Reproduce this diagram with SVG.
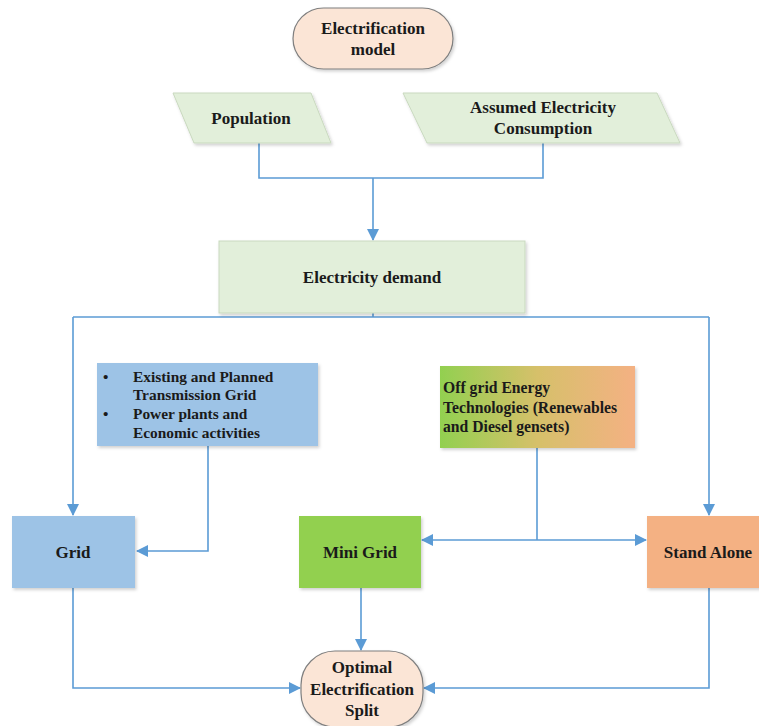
<svg xmlns="http://www.w3.org/2000/svg" width="759" height="726" viewBox="0 0 759 726">
<style>
text{font-family:'Liberation Serif','Times New Roman','DejaVu Serif',serif;font-weight:700;fill:#1a1a1a}
.c{text-anchor:middle}
.lg{fill:#e2efda;stroke:#c9d9bf;stroke-width:1}
.pe{fill:#fbe5d6;stroke:#7f7f7f;stroke-width:1.2}
.conn{fill:none;stroke:#5b9bd5;stroke-width:1.6}
</style>
<defs>
<marker id="ar" markerWidth="12" markerHeight="12" refX="11" refY="6" orient="auto" markerUnits="userSpaceOnUse">
<path d="M0,0 L12,6 L0,12 Z" fill="#5b9bd5"/>
</marker>
<linearGradient id="og" x1="0" y1="0" x2="1" y2="0">
<stop offset="0" stop-color="#92d050"/>
<stop offset="0.5" stop-color="#d6c06a"/>
<stop offset="1" stop-color="#f4b183"/>
</linearGradient>
<filter id="sh" x="-10%" y="-10%" width="125%" height="130%">
<feDropShadow dx="1.5" dy="2" stdDeviation="1.5" flood-color="#000" flood-opacity="0.18"/>
</filter>
</defs>

<g id="connectors">
<path class="conn" d="M259 143 V178 H543 V143"/>
<path class="conn" d="M373 178 V240" marker-end="url(#ar)"/>
<path class="conn" d="M373 313 V317"/>
<path class="conn" d="M73 317 H709"/>
<path class="conn" d="M73 317 V515" marker-end="url(#ar)"/>
<path class="conn" d="M709 317 V515" marker-end="url(#ar)"/>
<path class="conn" d="M208 446 V551 H137" marker-end="url(#ar)"/>
<path class="conn" d="M537 448 V540"/>
<path class="conn" d="M537 540 H422" marker-end="url(#ar)"/>
<path class="conn" d="M537 540 H646" marker-end="url(#ar)"/>
<path class="conn" d="M361 588 V650" marker-end="url(#ar)"/>
<path class="conn" d="M73 588 V688 H300" marker-end="url(#ar)"/>
<path class="conn" d="M709 588 V688 H424" marker-end="url(#ar)"/>
</g>

<g id="electrification-model">
<rect class="pe" x="293" y="8" width="160" height="61" rx="30.5" filter="url(#sh)"/>
<text class="c" x="373" y="34" font-size="17">Electrification</text>
<text class="c" x="373" y="55" font-size="17">model</text>
</g>

<g id="population">
<polygon class="lg" points="173,93 311,93 331,143 194,143" filter="url(#sh)"/>
<text class="c" x="251" y="124" font-size="17">Population</text>
</g>

<g id="assumed-consumption">
<polygon class="lg" points="403,93 657,93 680,143 427,143" filter="url(#sh)"/>
<text class="c" x="543" y="113" font-size="17">Assumed Electricity</text>
<text class="c" x="543" y="134" font-size="17">Consumption</text>
</g>

<g id="electricity-demand">
<rect class="lg" x="219" y="241" width="306" height="72" filter="url(#sh)"/>
<text class="c" x="372" y="283" font-size="17">Electricity demand</text>
</g>

<g id="transmission-info">
<rect x="97" y="363" width="221" height="83" fill="#9dc3e6" filter="url(#sh)"/>
<text x="103" y="382" font-size="15.4">•</text>
<text x="133" y="382" font-size="15.4">Existing and Planned</text>
<text x="133" y="400" font-size="15.4">Transmission Grid</text>
<text x="103" y="419" font-size="15.4">•</text>
<text x="133" y="419" font-size="15.4">Power plants and</text>
<text x="133" y="438" font-size="15.4">Economic activities</text>
</g>

<g id="offgrid-tech">
<rect x="440" y="366" width="195" height="82" fill="url(#og)" filter="url(#sh)"/>
<text x="443" y="393" font-size="15.7">Off grid Energy</text>
<text x="443" y="413" font-size="15.7">Technologies (Renewables</text>
<text x="443" y="432" font-size="15.7">and Diesel gensets)</text>
</g>

<g id="grid">
<rect x="12" y="516" width="123" height="72" fill="#9dc3e6" filter="url(#sh)"/>
<text class="c" x="73" y="558" font-size="17">Grid</text>
</g>

<g id="mini-grid">
<rect x="299" y="516" width="122" height="72" fill="#92d050" filter="url(#sh)"/>
<text class="c" x="360" y="558" font-size="17">Mini Grid</text>
</g>

<g id="stand-alone">
<rect x="647" y="516" width="122" height="72" fill="#f4b183" filter="url(#sh)"/>
<text class="c" x="708" y="558" font-size="17">Stand Alone</text>
</g>

<g id="optimal-split">
<rect class="pe" x="301" y="651" width="122" height="76" rx="34" filter="url(#sh)"/>
<text class="c" x="362" y="673" font-size="17">Optimal</text>
<text class="c" x="362" y="695" font-size="17">Electrification</text>
<text class="c" x="362" y="716" font-size="17">Split</text>
</g>
</svg>
